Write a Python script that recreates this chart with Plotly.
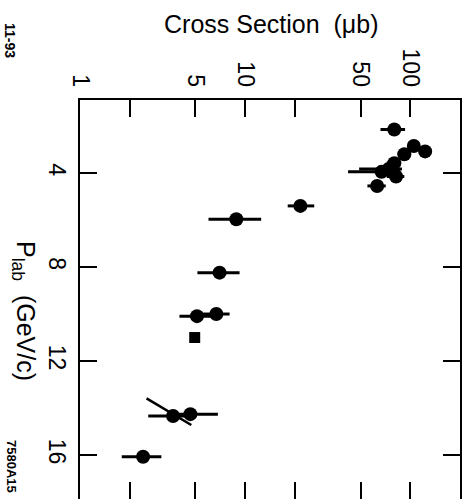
import plotly.graph_objects as go

# Measured cross sections (circles): beam momentum, sigma, asymmetric errors
p_lab = [2.15, 2.85, 3.08, 3.20, 3.58, 3.83, 3.95, 4.15, 4.55,
         5.40, 5.97, 8.24, 10.09, 10.00, 14.34, 14.26, 16.07]
sigma = [80.0, 105.0, 123.0, 92.0, 80.0, 74.0, 67.0, 82.0, 63.0,
         21.6, 8.84, 7.0, 5.11, 6.69, 3.66, 4.66, 2.41]
err_plus = [13.0, 8.0, 10.0, 8.0, 8.0, 15.0, 20.0, 10.0, 8.0,
            4.6, 3.66, 2.25, 1.2, 1.36, 1.0, 2.18, 0.70]
err_minus = [14.0, 8.0, 10.0, 8.0, 8.0, 25.0, 25.0, 10.0, 8.0,
             3.5, 2.84, 1.86, 1.11, 1.3, 1.07, 1.0, 0.62]

# Single square point
sq_p = [11.0]
sq_sigma = [4.95]

# Short line segment near 14 GeV/c
seg_p = [13.59, 14.72]
seg_sigma = [2.53, 4.72]

# Axis ticks (labelled majors, unlabelled minors)
x_tickvals = [1, 5, 10, 50, 100]
x_ticktext = ["1", "5", "10", "50", "100"]
x_minorvals = [2, 20]
y_tickvals = [4, 8, 12, 16]
y_ticktext = ["4", "8", "12", "16"]

FONT = "Liberation Sans, Arial, Helvetica, sans-serif"

fig = go.Figure()

fig.add_trace(go.Scatter(
    x=seg_sigma, y=seg_p, mode="lines",
    line=dict(color="black", width=2.5), showlegend=False, hoverinfo="skip",
))

fig.add_trace(go.Scatter(
    x=sigma, y=p_lab, mode="markers",
    marker=dict(symbol="circle", size=14, color="black"),
    error_x=dict(type="data", symmetric=False, array=err_plus,
                 arrayminus=err_minus, color="black", thickness=3, width=0),
    showlegend=False,
))

fig.add_trace(go.Scatter(
    x=sq_sigma, y=sq_p, mode="markers",
    marker=dict(symbol="square", size=11, color="black"),
    showlegend=False,
))

# Bottom-edge ticks without a frame line
fig.add_trace(go.Scatter(x=[10], y=[8], xaxis="x2", mode="markers",
                         marker=dict(opacity=0), showlegend=False, hoverinfo="skip"))

W, H = 467, 499
L, R, T, B = 80, 7, 100, 0
pw, ph = W - L - R, H - T - B


def paper_xy(px, py):
    """Convert a pixel position on the page into paper coordinates."""
    return (px - L) / pw, 1 - (py - T) / ph


def label(text, px, py, size, angle=0):
    x, y = paper_xy(px, py)
    return dict(text=text, x=x, y=y, xref="paper", yref="paper",
                textangle=angle, showarrow=False, font=dict(size=size),
                xanchor="center", yanchor="middle")


tick_style = dict(ticks="inside", ticklen=17, tickwidth=2, tickcolor="black")
minor_style = dict(tickvals=x_minorvals, ticks="inside", ticklen=17,
                   tickwidth=2, tickcolor="black", showgrid=False)

fig.update_layout(
    width=W, height=H,
    margin=dict(l=L, r=R, t=T, b=B),
    paper_bgcolor="white", plot_bgcolor="white",
    font=dict(family=FONT, color="black"),
    xaxis=dict(
        type="log", range=[0, 2.301], side="top",
        showline=True, linecolor="black", linewidth=2, mirror=False,
        showgrid=False, zeroline=False, **tick_style,
        tickvals=x_tickvals, ticktext=x_ticktext, minor=minor_style,
        tickangle=90, tickfont=dict(size=23), ticklabelstandoff=3,
    ),
    xaxis2=dict(
        type="log", range=[0, 2.301], side="bottom", overlaying="x",
        showline=False, showgrid=False, zeroline=False, **tick_style,
        tickvals=x_tickvals, minor=minor_style, showticklabels=False,
    ),
    yaxis=dict(
        range=[17.87, 0.894],
        showline=True, linecolor="black", linewidth=2, mirror="ticks",
        showgrid=False, zeroline=False, **tick_style,
        tickvals=y_tickvals, ticktext=y_ticktext,
        tickangle=90, tickfont=dict(size=23), ticklabelstandoff=1,
    ),
    annotations=[
        label("Cross Section  (μb)", 271, 24, 25),
        label("P<sub>lab</sub>  (GeV/c)", 24, 311, 25, 90),
        label("<b>11-93</b>", 10, 40, 14, 90),
        label("<b>7580A15</b>", 12, 466, 13, 90),
    ],
)

fig.write_html("out.html")
